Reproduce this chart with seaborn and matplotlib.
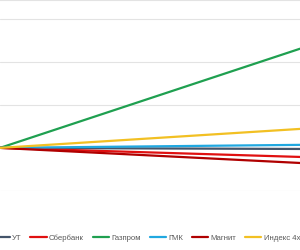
import pandas as pd
import seaborn as sns
import matplotlib.pyplot as plt

# данные (изменение, %), начало и конец периода
periods = [0, 1]
names = ['УТ', 'Сбербанк', 'Газпром', 'ГМК', 'Магнит', 'Индекс 4х бумаг']
ut = [0, -0.5]
sber = [0, -4.2]
gazprom = [0, 46.0]
gmk = [0, 1.4]
magnit = [0, -7.0]
index4 = [0, 8.8]
colors = ['#44546a', '#e01010', '#1fa050', '#20a8e0', '#b00000', '#f2c023']

series = [ut, sber, gazprom, gmk, magnit, index4]
df = pd.DataFrame({
    'period': periods * len(names),
    'value': [v for s in series for v in s],
    'name': [n for n in names for _ in periods],
})

sns.set_style('white')
plt.rcParams['font.family'] = ['Liberation Sans', 'DejaVu Sans']

fig = plt.figure(figsize=(3.0, 2.5), dpi=100)
ax = fig.add_axes([0, 1 - 191 / 250, 1, 191 / 250])

sns.lineplot(data=df, x='period', y='value', hue='name', hue_order=names,
             palette=colors, linewidth=1.6, ax=ax)

ax.set_xlim(0, 1)
ax.set_ylim(-20, 68.6)
ax.set_yticks([-20, 0, 20, 40, 60])
ax.grid(axis='y', color='#e3e3e3', linewidth=0.8)
ax.set_axisbelow(True)
ax.set_xticks([])
ax.set_yticklabels([])
ax.tick_params(left=False)
ax.set_xlabel('')
ax.set_ylabel('')
for side in ['left', 'right', 'bottom']:
    ax.spines[side].set_visible(False)
ax.spines['top'].set_color('#e3e3e3')

# легенда внизу, частично обрезана краями
handles, labels = ax.get_legend_handles_labels()
ax.legend_.remove()
fig.legend(handles, labels, loc='center left', bbox_to_anchor=(-0.033, 1 - 238 / 250),
           borderaxespad=0, ncol=6, frameon=False, fontsize=5.6, labelcolor='#595959',
           handlelength=2.1, handletextpad=0.28, columnspacing=1.15)

plt.savefig('out.png', dpi=100)
